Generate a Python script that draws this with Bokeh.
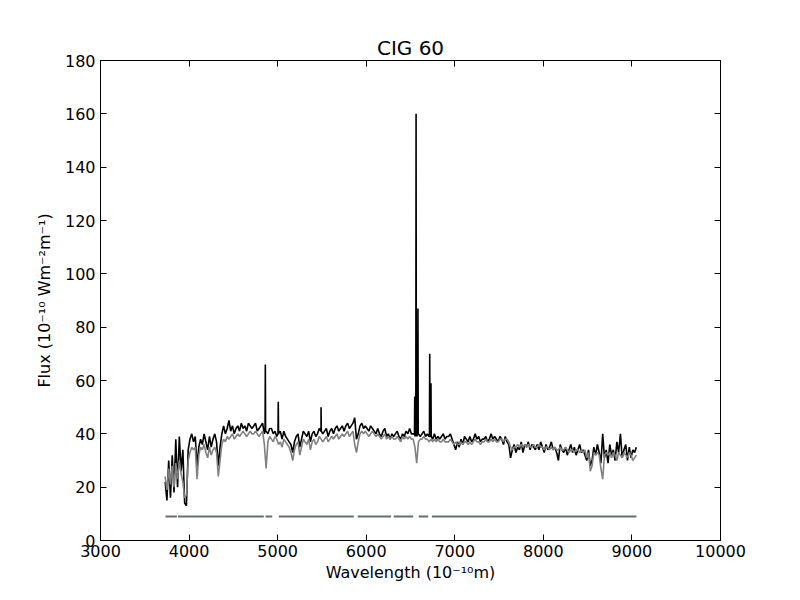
import numpy as np
from bokeh.plotting import figure
from bokeh.models import LinearAxis, FixedTicker, Range1d, CustomJSTickFormatter
from bokeh.embed import file_html
from bokeh.resources import INLINE

title_text = "CIG 60"
x_label = "Wavelength (10\u207b\u00b9\u2070m)"
y_label = "Flux (10\u207b\u00b9\u2070 Wm\u207b\u00b2m\u207b\u00b9)"

x_ticks = [3000, 4000, 5000, 6000, 7000, 8000, 9000, 10000]
y_ticks = [0, 20, 40, 60, 80, 100, 120, 140, 160, 180]

# wavelength sampling of the read-off spectrum (Angstrom)
wl_start = 3730
wl_step = 20

# observed spectrum (black)
flux_obs = [
    22, 15, 30, 16, 32, 18, 38, 20, 39, 26,
    34, 14, 13, 34, 38, 40, 37, 39, 28, 35,
    38, 36, 40, 37, 34, 39, 35, 38, 40, 37,
    28, 35, 40, 43, 40, 42, 45, 41, 43, 40,
    42, 43, 41, 44, 42, 43, 41, 44, 43, 42,
    43, 44, 41, 42, 43, 44, 40, 41, 40, 42,
    42, 40, 41, 39, 40, 41, 38, 41, 39, 38,
    37, 36, 33, 37, 39, 40, 35, 38, 41, 40,
    39, 41, 37, 40, 41, 39, 40, 42, 41, 40,
    41, 42, 39, 41, 42, 40, 42, 43, 41, 42,
    43, 41, 43, 44, 42, 43, 44, 46, 38, 40,
    43, 44, 42, 43, 42, 41, 43, 42, 41, 40,
    42, 40, 39, 41, 42, 39, 40, 38, 40, 39,
    40, 41, 39, 38, 40, 39, 41, 40, 42, 40,
    40, 39, 39, 40, 39, 40, 41, 39, 40, 39,
    39, 38, 40, 38, 39, 38, 39, 40, 38, 39,
    39, 40, 38, 36, 34, 37, 35, 38, 36, 39,
    38, 37, 39, 37, 38, 40, 38, 39, 37, 38,
    38, 39, 37, 38, 40, 38, 39, 38, 37, 39,
    38, 36, 39, 37, 36, 31, 34, 36, 33, 35,
    34, 37, 33, 36, 35, 37, 34, 36, 35, 34,
    36, 34, 37, 35, 33, 36, 34, 35, 37, 34,
    35, 33, 30, 36, 34, 33, 35, 32, 34, 36,
    33, 35, 32, 34, 36, 33, 34, 32, 30, 34,
    28, 30, 35, 32, 36, 33, 29, 40, 31, 34,
    29, 36, 32, 34, 30, 37, 33, 40, 31, 34,
    36, 30, 35, 31, 34, 33, 35,
]

# fitted stellar model (grey)
flux_model = [
    24, 19, 27, 21, 28, 20, 29, 23, 30, 25,
    22, 16, 17, 30, 33, 35, 34, 35, 23, 32,
    35, 34, 36, 33, 31, 35, 32, 34, 35, 33,
    24, 30, 36, 38, 37, 39, 38, 39, 40, 38,
    39, 40, 39, 40, 41, 40, 39, 40, 41, 40,
    40, 41, 40, 39, 40, 41, 36, 27, 37, 39,
    38, 37, 39, 38, 36, 37, 35, 38, 37, 36,
    35, 33, 30, 34, 36, 37, 32, 35, 38, 37,
    36, 38, 34, 37, 38, 36, 37, 39, 38, 37,
    38, 39, 37, 38, 39, 38, 39, 40, 38, 39,
    40, 39, 40, 41, 39, 40, 41, 36, 33, 37,
    40, 41, 40, 41, 40, 39, 40, 41, 40, 39,
    40, 39, 38, 39, 40, 38, 39, 38, 39, 38,
    38, 39, 38, 37, 39, 38, 39, 38, 39, 38,
    38, 35, 29, 37, 38, 38, 39, 38, 38, 37,
    38, 37, 38, 37, 38, 37, 37, 38, 37, 37,
    37, 38, 37, 36, 37, 36, 36, 37, 36, 37,
    37, 36, 37, 36, 37, 38, 37, 37, 36, 37,
    37, 38, 37, 37, 38, 37, 38, 37, 37, 38,
    38, 37, 38, 38, 37, 35, 34, 35, 35, 36,
    35, 36, 35, 36, 35, 36, 35, 35, 36, 35,
    35, 36, 35, 35, 34, 35, 35, 34, 35, 34,
    35, 34, 34, 35, 34, 34, 35, 34, 33, 34,
    34, 33, 34, 34, 33, 34, 33, 34, 31, 33,
    26, 28, 33, 32, 33, 32, 27, 23, 32, 33,
    32, 33, 31, 33, 32, 30, 33, 32, 31, 33,
    32, 31, 33, 32, 30, 31, 32,
]

# narrow emission lines in the observed spectrum
em_wl = [4861, 5007, 5490, 6548, 6563, 6584, 6717, 6731]
em_peak = [66, 52, 50, 54, 160, 87, 70, 59]
em_base = [41, 40, 41, 40, 40, 40, 39, 39]
em_half_width = 3

# masked-region indicator (pixels used in the fit)
mask_start = [3734, 3875, 4863, 5013, 5904, 6311, 6593, 6742]
mask_end = [3862, 4844, 4939, 5860, 6281, 6530, 6699, 9051]
mask_level = 9

# ---------------------------------------------------------------
wl = np.array([wl_start + wl_step * i for i in range(len(flux_obs))], dtype=float)
obs_x = list(wl)
obs_y = list(flux_obs)
for w, pk, b in zip(em_wl, em_peak, em_base):
    obs_x += [w - em_half_width, w, w + em_half_width]
    obs_y += [b, pk, b]
order = np.argsort(obs_x, kind="stable")
obs_x = np.array(obs_x)[order]
obs_y = np.array(obs_y)[order]

FONT = "DejaVu Sans"

p = figure(width=784, height=584,
           x_range=Range1d(3000, 10000), y_range=Range1d(0, 180),
           output_backend="svg", toolbar_location=None,
           min_border_left=100, min_border_right=64,
           min_border_top=60, min_border_bottom=44)
p.background_fill_color = "white"
p.border_fill_color = "white"
p.outline_line_color = "black"
p.outline_line_width = 1
p.xgrid.grid_line_color = None
p.ygrid.grid_line_color = None

p.title.text = title_text
p.title.align = "center"
p.title.text_font = FONT
p.title.text_font_size = "20px"
p.title.text_font_style = "normal"
p.title.text_color = "black"
p.title.standoff = 2

p.line(obs_x, obs_y, color="black", line_width=1.6)
p.line(wl, flux_model, color="#808080", line_width=1.6)
p.segment(x0=mask_start, y0=[mask_level] * len(mask_start),
          x1=mask_end, y1=[mask_level] * len(mask_end),
          color="#607070", line_width=2)

blank = CustomJSTickFormatter(code="return ''")

for ax in (p.xaxis[0], p.yaxis[0]):
    ax.axis_line_color = "black"
    ax.major_tick_in = 6
    ax.major_tick_out = 0
    ax.minor_tick_line_color = None
    ax.major_label_text_font = FONT
    ax.major_label_text_font_size = "16px"
    ax.major_label_text_color = "black"
    ax.axis_label_text_font = FONT
    ax.axis_label_text_font_size = "16px"
    ax.axis_label_text_font_style = "normal"
    ax.axis_label_text_color = "black"

p.xaxis[0].ticker = FixedTicker(ticks=x_ticks)
p.yaxis[0].ticker = FixedTicker(ticks=y_ticks)
p.xaxis[0].axis_label = x_label
p.yaxis[0].axis_label = y_label
p.xaxis[0].major_label_standoff = 4
p.xaxis[0].axis_label_standoff = 3
p.yaxis[0].major_label_standoff = 5
p.yaxis[0].axis_label_standoff = 8

top = LinearAxis(ticker=FixedTicker(ticks=x_ticks), formatter=blank)
right = LinearAxis(ticker=FixedTicker(ticks=y_ticks), formatter=blank)
for ax in (top, right):
    ax.axis_line_color = "black"
    ax.major_tick_in = 6
    ax.major_tick_out = 0
    ax.minor_tick_line_color = None
    ax.major_label_standoff = 0
p.add_layout(top, "above")
p.add_layout(right, "right")

open("out.html", "w").write(file_html(p, INLINE))
